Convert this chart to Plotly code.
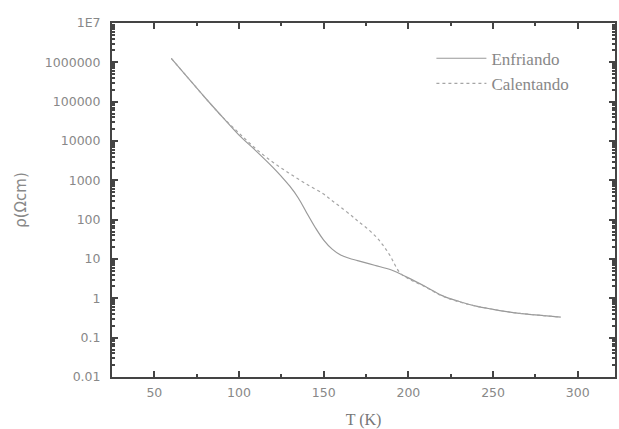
import numpy as np
import plotly.graph_objects as go

# Data: temperature (K) and log10 of resistivity
T_enf = [60, 70, 80, 90, 100, 110, 120, 125, 130, 135, 140, 145, 150, 155, 160, 165, 170,
         180, 190, 200, 210, 220, 230, 240, 250, 260, 270, 280, 290]
logrho_enf = [6.1, 5.6, 5.1, 4.62, 4.15, 3.75, 3.33, 3.1, 2.85, 2.55, 2.17, 1.8, 1.48, 1.25,
              1.1, 1.02, 0.96, 0.84, 0.72, 0.52, 0.3, 0.07, -0.08, -0.2, -0.28, -0.35,
              -0.4, -0.44, -0.48]

T_cal = [60, 70, 80, 90, 100, 110, 120, 130, 140, 150, 155, 160, 167, 170, 175, 181,
         185, 189, 195, 200, 210, 220, 230, 240, 250, 260, 270, 280, 290]
logrho_cal = [6.1, 5.6, 5.1, 4.62, 4.2, 3.8, 3.46, 3.17, 2.9, 2.65, 2.48, 2.32, 2.08,
              1.97, 1.8, 1.56, 1.35, 1.1, 0.65, 0.5, 0.29, 0.06, -0.09, -0.2, -0.28,
              -0.35, -0.4, -0.44, -0.48]

rho_enf = [10 ** v for v in logrho_enf]
rho_cal = [10 ** v for v in logrho_cal]

y_tickvals = [0.01, 0.1, 1, 10, 100, 1000, 10000, 100000, 1000000, 10000000]
y_ticktext = ["0.01", "0.1", "1", "10", "100", "1000", "10000", "100000", "1000000", "1E7"]
x_tickvals = [50, 100, 150, 200, 250, 300]

fig = go.Figure()
fig.add_trace(go.Scatter(x=T_enf, y=rho_enf, mode="lines", name="Enfriando",
                         line=dict(color="#999999", width=1.2, shape="spline", smoothing=1.0)))
fig.add_trace(go.Scatter(x=T_cal, y=rho_cal, mode="lines", name="Calentando",
                         line=dict(color="#a5a5a5", width=1.2, dash="dot", shape="spline")))

axis_common = dict(showline=True, linecolor="#444", linewidth=2, mirror="ticks",
                   ticks="inside", tickcolor="#444", tickwidth=1.5, ticklen=6,
                   showgrid=False, zeroline=False,
                   tickfont=dict(family="DejaVu Sans", size=12.5, color="#888"))

fig.update_xaxes(range=[25, 322], tickvals=x_tickvals, ticklabelstandoff=3,
                 minor=dict(ticks="inside", dtick=25, tick0=25, ticklen=3, tickcolor="#444"),
                 title=dict(text="T (K)", font=dict(family="Liberation Serif, Times New Roman",
                                                     size=16, color="#777"), standoff=16),
                 **axis_common)
fig.update_yaxes(type="log", range=[-2, 7], tickvals=y_tickvals, ticktext=y_ticktext,
                 ticklabelstandoff=7,
                 minor=dict(ticks="inside", dtick="D1", ticklen=3, tickcolor="#444"),
                 title=dict(text="ρ(Ωcm)", font=dict(family="DejaVu Sans",
                                                      size=15, color="#888"), standoff=15),
                 **axis_common)

fig.update_layout(
    width=619, height=429,
    margin=dict(l=112, r=2, t=23, b=52),
    paper_bgcolor="white", plot_bgcolor="white",
    showlegend=True,
    legend=dict(x=0.635, y=0.95, xanchor="left", yanchor="top",
                bgcolor="rgba(0,0,0,0)",
                font=dict(family="Liberation Serif, Times New Roman", size=17, color="#888"),
                tracegroupgap=0, itemwidth=50),
)

fig.write_html("out.html")
